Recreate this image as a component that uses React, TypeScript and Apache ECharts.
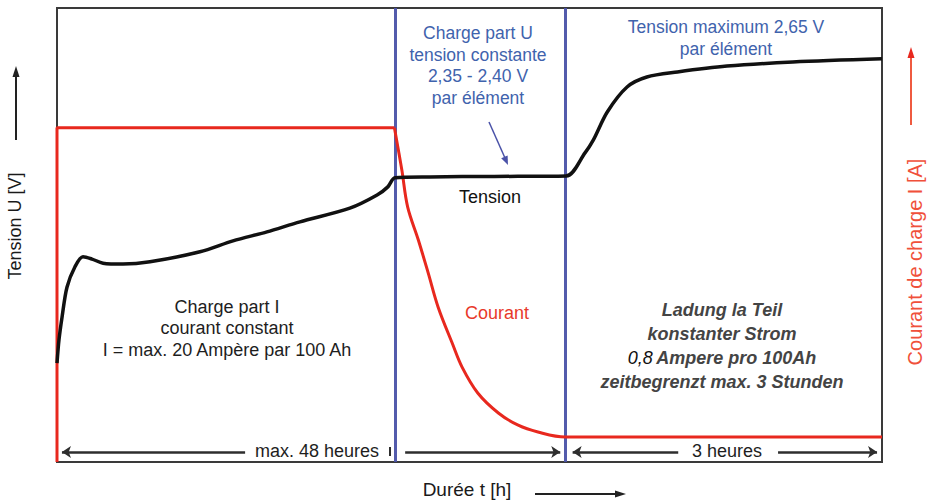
import React, { useEffect, useRef } from "react";
import * as echarts from "echarts";

// Schematic charge curve (x: relative time 0..100, y: relative level 0..100)
const tensionT = [0, 0.24, 0.61, 1.21, 2.18, 3.15, 4.24, 5.58, 8.0, 11.27, 17.33, 21.33, 25.45, 29.45, 35.5, 38.8, 40.1, 40.97, 45.2, 53.0, 61.7, 64.0, 65.0, 66.7, 69.1, 71.5, 75.2, 81.2, 89.2, 100];
const tensionU = [21.8, 26.9, 31.9, 38.5, 43.0, 45.2, 44.7, 43.8, 43.6, 44.1, 46.3, 48.7, 50.7, 52.9, 55.9, 58.8, 60.6, 62.6, 62.8, 62.9, 63.0, 68.1, 70.9, 77.1, 82.6, 84.8, 85.9, 87.2, 88.1, 88.8];

const courantConstT = [0, 0, 40.9];
const courantConstI = [0, 73.6, 73.6];

const courantDecayT = [40.9, 41.8, 42.5, 43.8, 45.0, 46.2, 47.9, 49.1, 51.0, 53.5, 55.9, 58.3, 61.6, 100];
const courantDecayI = [73.6, 64.3, 56.2, 48.9, 41.6, 34.1, 26.2, 20.9, 15.2, 10.8, 8.1, 6.6, 5.5, 5.5];

const phaseBounds = [41, 61.6];

// duration arrows: [from, to] (arrow head at "to"), at level arrowLevel
const durationArrows = [
  [22.8, 0.6],
  [42.2, 61.0],
  [75.3, 62.5],
  [87.4, 99.4],
];
const arrowLevel = 2.2;

const FONT = "'Liberation Sans', Arial, sans-serif";
const BLUE_TEXT = "#3f63ad";
const BLUE_LINE = "#4a52a8";
const RED = "#e8281e";

function App() {
  const ref = useRef<HTMLDivElement>(null);

  useEffect(() => {
    if (!ref.current) return;
    const chart = echarts.init(ref.current, null, { renderer: "svg" });

    const txt = (text: string, x: number, y: number, fill: string, size: number, extra: any = {}) => ({
      type: "text",
      x,
      y,
      z: 100,
      ...extra,
      style: {
        text,
        fill,
        font: `${size}px ${FONT}`,
        align: "center",
        verticalAlign: "middle",
        lineHeight: extra.lineHeight || size * 1.2,
        ...(extra.style || {}),
      },
    });

    const option: any = {
      animation: false,
      backgroundColor: "#ffffff",
      grid: {
        left: 57,
        right: 51,
        top: 8,
        bottom: 39,
        show: true,
        borderColor: "#3a3a3a",
        borderWidth: 2,
        backgroundColor: "transparent",
      },
      xAxis: {
        type: "value",
        min: 0,
        max: 100,
        axisLine: { show: false },
        axisTick: { show: false },
        axisLabel: { show: false },
        splitLine: { show: false },
      },
      yAxis: [
        {
          type: "value",
          min: 0,
          max: 100,
          axisLine: { show: false },
          axisTick: { show: false },
          axisLabel: { show: false },
          splitLine: { show: false },
        },
        {
          type: "value",
          min: 0,
          max: 100,
          position: "right",
          axisLine: { show: false },
          axisTick: { show: false },
          axisLabel: { show: false },
          splitLine: { show: false },
        },
      ],
      series: [
        {
          name: "Phases",
          type: "line",
          data: [],
          silent: true,
          markLine: {
            silent: true,
            symbol: ["none", "none"],
            label: { show: false },
            lineStyle: { color: BLUE_LINE, width: 3, type: "solid", opacity: 0.95 },
            emphasis: { disabled: true },
            data: phaseBounds.map((v) => ({ xAxis: v })),
          },
          z: 3,
        },
        {
          name: "Durée",
          type: "line",
          data: [],
          silent: true,
          markLine: {
            silent: true,
            symbol: ["none", "arrow"],
            symbolSize: 9,
            label: { show: false },
            lineStyle: { color: "#2e2e2e", width: 2.5, type: "solid" },
            emphasis: { disabled: true },
            data: durationArrows.map(([a, b]) => [
              { coord: [a, arrowLevel] },
              { coord: [b, arrowLevel] },
            ]),
          },
          z: 4,
        },
        {
          name: "Courant",
          type: "line",
          yAxisIndex: 1,
          data: courantConstT.map((t, i) => [t, courantConstI[i]]),
          showSymbol: false,
          symbol: "none",
          lineStyle: { color: RED, width: 3 },
          z: 5,
          silent: true,
        },
        {
          name: "Courant décroissant",
          type: "line",
          yAxisIndex: 1,
          data: courantDecayT.map((t, i) => [t, courantDecayI[i]]),
          smooth: 0.35,
          showSymbol: false,
          symbol: "none",
          lineStyle: { color: RED, width: 3 },
          z: 5,
          silent: true,
        },
        {
          name: "Tension",
          type: "line",
          data: tensionT.map((t, i) => [t, tensionU[i]]),
          smooth: 0.3,
          showSymbol: false,
          symbol: "none",
          lineStyle: { color: "#111111", width: 3.5 },
          z: 6,
          silent: true,
        },
      ],
      graphic: [
        // Axis titles
        txt("Tension U [V]", 15, 226, "#1a1a1a", 18, { rotation: Math.PI / 2 }),
        txt("Courant de charge I [A]", 915, 262, "#f0503a", 20, { rotation: Math.PI / 2 }),
        txt("Durée t [h]", 467, 489, "#1a1a1a", 19),
        // Left arrow
        { type: "line", shape: { x1: 16, y1: 140, x2: 16, y2: 74 }, style: { stroke: "#222", lineWidth: 2 } },
        { type: "polygon", shape: { points: [[16, 66], [12.5, 77], [19.5, 77]] }, style: { fill: "#222" } },
        // Right arrow
        { type: "line", shape: { x1: 911, y1: 125, x2: 911, y2: 56 }, style: { stroke: "#ef5a40", lineWidth: 2 } },
        { type: "polygon", shape: { points: [[911, 47], [907.5, 58], [914.5, 58]] }, style: { fill: "#e8281e" } },
        // Bottom arrow
        { type: "line", shape: { x1: 535, y1: 494, x2: 617, y2: 494 }, style: { stroke: "#222", lineWidth: 2 } },
        { type: "polygon", shape: { points: [[626, 494], [615, 490.5], [615, 497.5]] }, style: { fill: "#222" } },
        // Blue pointer arrow
        { type: "line", z: 50, shape: { x1: 489, y1: 122, x2: 505, y2: 158 }, style: { stroke: BLUE_LINE, lineWidth: 1.5 } },
        { type: "polygon", z: 50, shape: { points: [[508, 165], [507.6, 155.4], [501.2, 158.2]] }, style: { fill: BLUE_LINE } },
        // Small tick left of first boundary
        { type: "line", z: 50, shape: { x1: 390, y1: 447, x2: 390, y2: 456 }, style: { stroke: "#2e2e2e", lineWidth: 2 } },
        // Inner texts
        txt("Charge part I\ncourant constant\nI = max. 20 Ampère par 100 Ah", 227, 328, "#1e1e1e", 18, { lineHeight: 21.5 }),
        txt("Tension", 490, 197, "#111", 18),
        txt("Courant", 497, 313, "#e8392a", 18),
        txt("Charge part U\ntension constante\n2,35 - 2,40 V\npar élément", 478, 65.5, BLUE_TEXT, 17.5, { lineHeight: 21.7 }),
        txt("Tension maximum 2,65 V\npar élément", 726, 38, BLUE_TEXT, 17.5, { lineHeight: 22 }),
        {
          type: "text",
          x: 722,
          y: 346,
          z: 100,
          style: {
            text: "{b|Ladung la Teil}\n{b|konstanter Strom}\n{r|0,8} {b|Ampere pro 100Ah}\n{b|zeitbegrenzt max. 3 Stunden}",
            align: "center",
            verticalAlign: "middle",
            rich: {
              b: { font: `italic bold 18px ${FONT}`, fill: "#444444", lineHeight: 24 },
              r: { font: `italic 18px ${FONT}`, fill: "#111", lineHeight: 24 },
            },
          },
        },
        // Duration labels
        txt("max. 48 heures", 317, 451, "#1e1e1e", 18),
        txt("3 heures", 727, 451, "#1e1e1e", 18),
      ],
    };

    chart.setOption(option);
    return () => chart.dispose();
  }, []);

  return (
    <div
      ref={ref}
      style={{ position: "fixed", left: 0, top: 0, width: 933, height: 501, background: "#fff" }}
    />
  );
}

export default App;
